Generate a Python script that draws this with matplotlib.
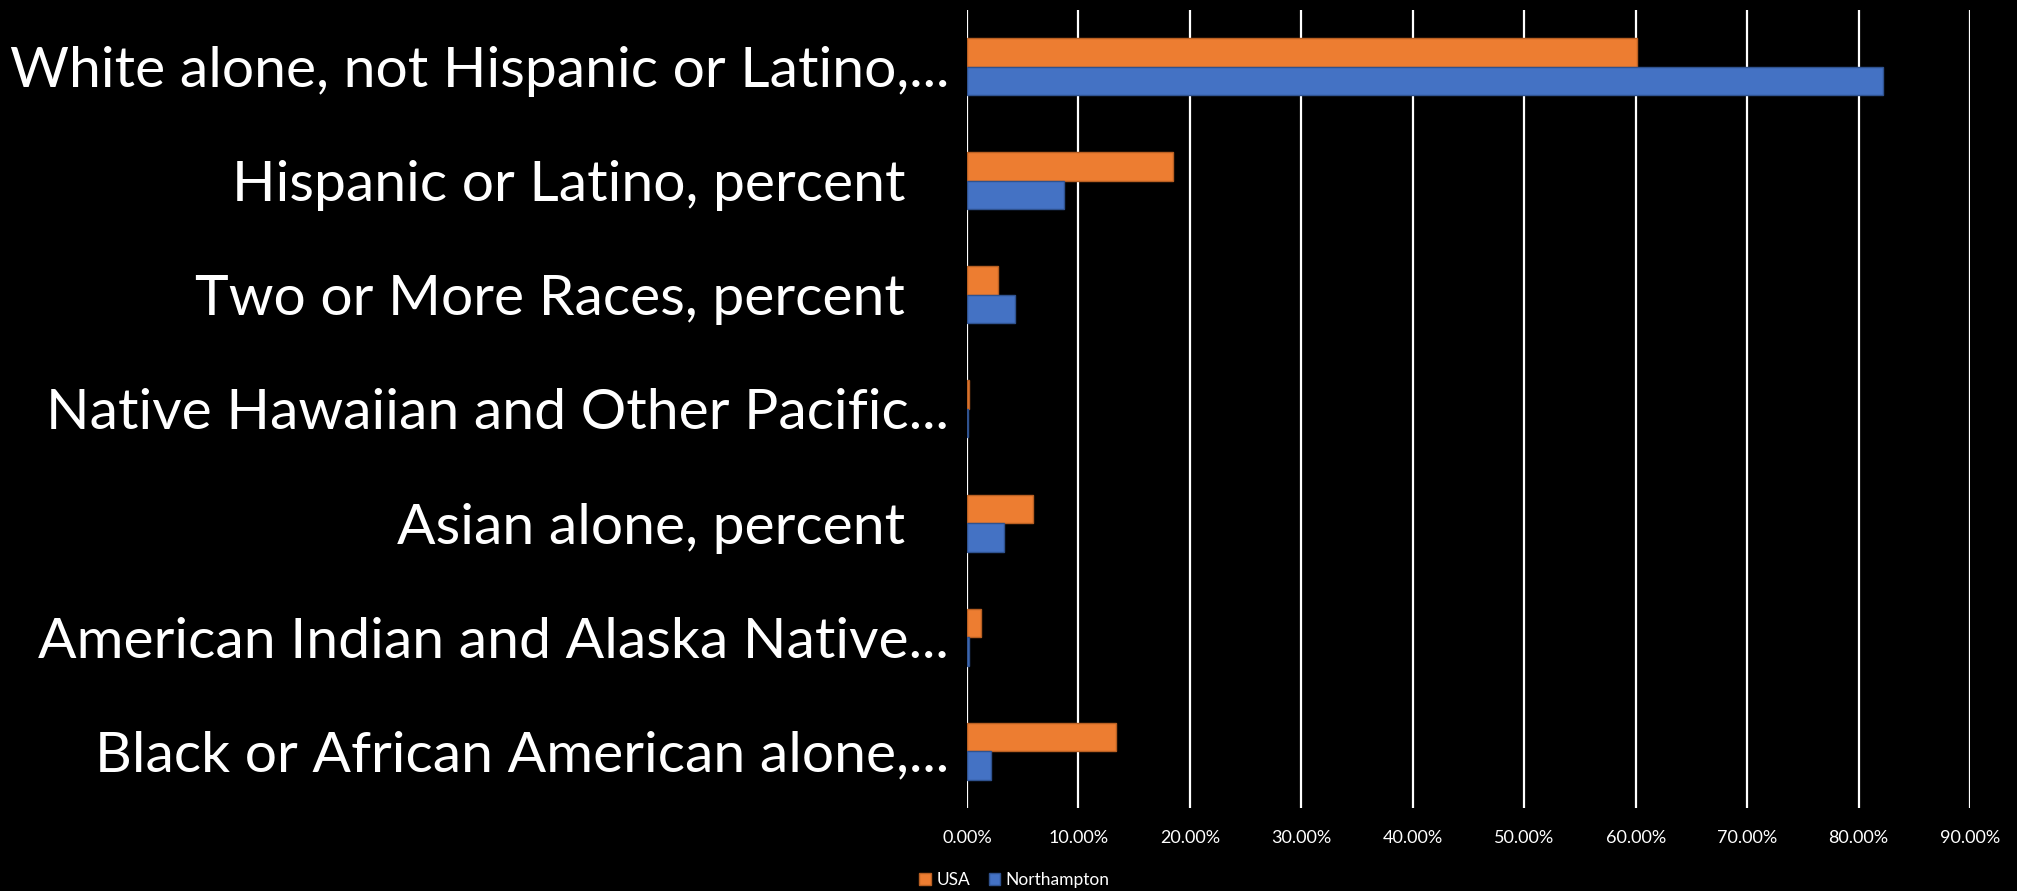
import numpy as np
import matplotlib
matplotlib.use("Agg")
import matplotlib.pyplot as plt

# categories top to bottom
categories = ["White alone, not Hispanic or Latino,...",
              "Hispanic or Latino, percent   ",
              "Two or More Races, percent   ",
              "Native Hawaiian and Other Pacific...",
              "Asian alone, percent   ",
              "American Indian and Alaska Native...",
              "Black or African American alone,..."]
usa = [60.1, 18.5, 2.8, 0.2, 5.9, 1.3, 13.4]
northampton = [82.2, 8.7, 4.3, 0.05, 3.3, 0.2, 2.2]
xticks = [0, 10, 20, 30, 40, 50, 60, 70, 80, 90]

plt.rcParams['font.family'] = ['Lato', 'DejaVu Sans']

fig = plt.figure(figsize=(20.17, 8.91), dpi=100, facecolor='black')
ax = fig.add_axes([0.4794, 0.093, 0.4973, 0.896])
ax.set_facecolor('black')

y = np.arange(len(categories))
h = 0.25
ax.barh(y - h / 2, usa, height=h, color='#ED7D31', edgecolor='#B85F22',
        linewidth=1, label='USA', zorder=3)
ax.barh(y + h / 2, northampton, height=h, color='#4472C4', edgecolor='#2F528F',
        linewidth=1, label='Northampton', zorder=3)

ax.set_xlim(0, 90)
ax.set_ylim(len(categories) - 0.5, -0.5)
ax.set_xticks(xticks)
ax.set_xticklabels(["%.2f%%" % t for t in xticks])
ax.set_yticks(y)
ax.set_yticklabels(categories)

# white vertical gridlines
for t in xticks:
    ax.axvline(t, color='white', linewidth=1.6, zorder=1)

for s in ax.spines.values():
    s.set_visible(False)
ax.tick_params(axis='x', length=0, pad=16, labelsize=13, labelcolor='white')
ax.tick_params(axis='y', length=0, pad=13, labelsize=44, labelcolor='white')

# shrink the big labels so the longest one fits left of the axis
fig.canvas.draw()
r = fig.canvas.get_renderer()
w = ax.get_yticklabels()[0].get_window_extent(r).width
size = 44 * 939.0 / w
ax.tick_params(axis='y', labelsize=size)

leg = fig.legend(loc='lower center', bbox_to_anchor=(0.503, -0.014), ncol=2,
                 frameon=False, fontsize=12.5, labelcolor='white',
                 handlelength=0.66, handleheight=0.66, handletextpad=0.3,
                 columnspacing=1.1)

fig.savefig("out.png", dpi=100, facecolor='black')
